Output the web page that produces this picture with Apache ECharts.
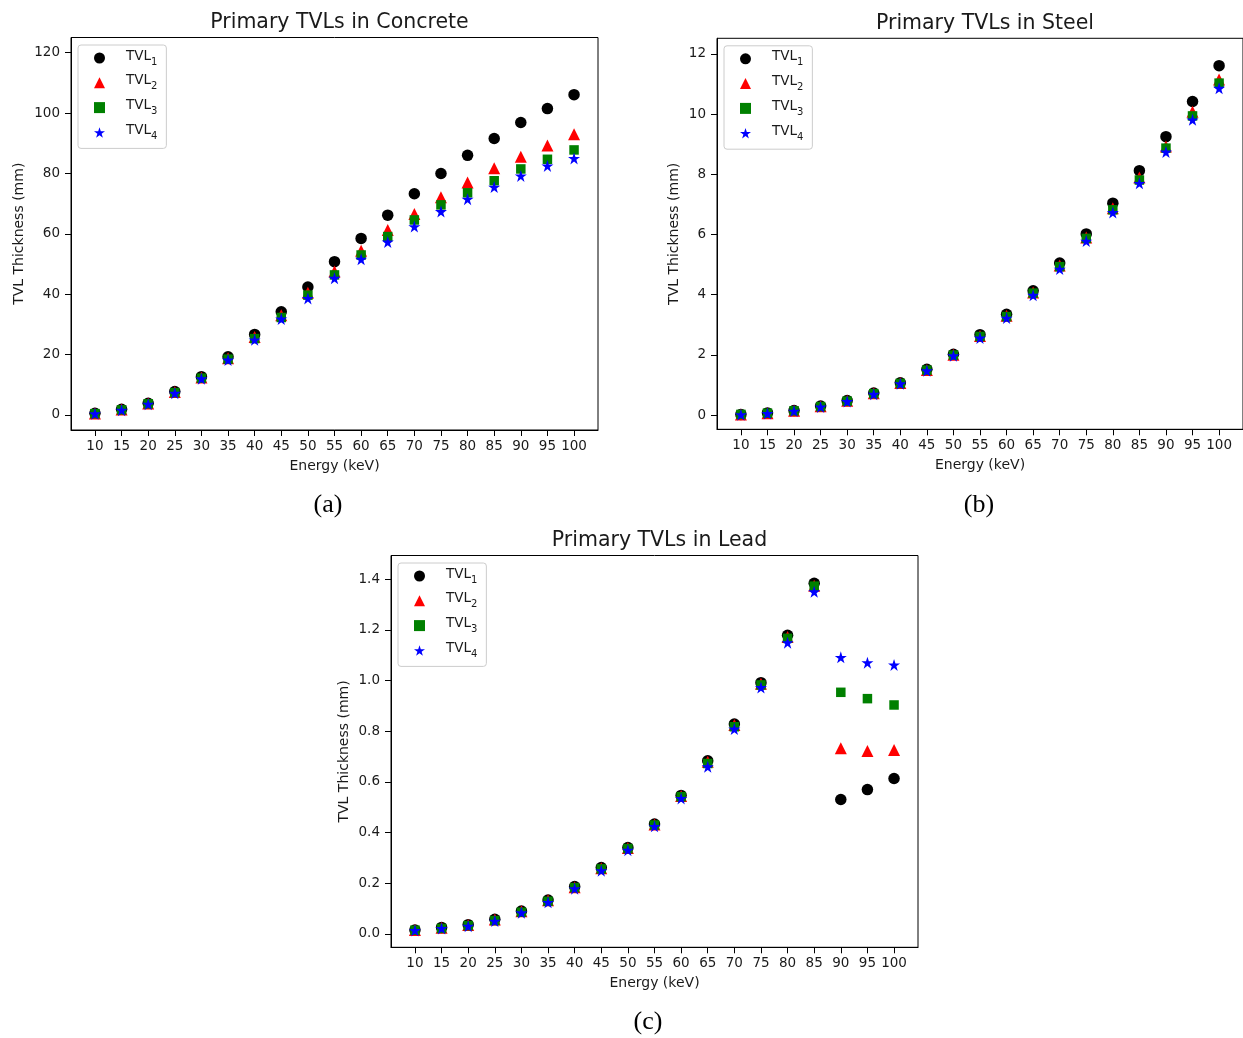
<!DOCTYPE html>
<html><head><meta charset="utf-8">
<script src="https://cdn.jsdelivr.net/npm/echarts@6/dist/echarts.min.js"></script>
<style>html,body{margin:0;padding:0;background:#fff}#c{width:1243px;height:1038px}</style>
</head><body><div id="c"></div>
<script>
// ---- data ----
const energies = [10,15,20,25,30,35,40,45,50,55,60,65,70,75,80,85,90,95,100];
const seriesNames = ['TVL1','TVL2','TVL3','TVL4'];
const concreteYTicks = [0,20,40,60,80,100,120];
const steelYTicks = [0,2,4,6,8,10,12];
const leadYTicks = [0,0.2,0.4,0.6,0.8,1.0,1.2,1.4];

const concreteTVL1 = [0.55,1.88,3.9,7.8,12.7,19.3,26.7,34.2,42.4,50.8,58.5,66.2,73.3,80.0,86.0,91.6,96.9,101.5,106.1];
const concreteTVL2 = [0.5,1.8,3.8,7.6,12.4,18.8,25.8,33.0,40.5,47.5,54.4,61.3,66.6,72.1,77.0,81.7,85.5,89.3,93.0];
const concreteTVL3 = [0.45,1.7,3.7,7.4,12.2,18.5,25.3,32.3,39.7,46.4,53.0,59.1,64.6,69.6,73.6,77.6,81.5,84.7,87.8];
const concreteTVL4 = [0.4,1.6,3.6,7.2,12.0,18.2,24.9,31.8,38.6,45.3,51.6,57.3,62.4,67.4,71.5,75.5,79.2,82.5,85.0];

const steelTVL1 = [0.02,0.07,0.15,0.30,0.48,0.73,1.07,1.52,2.02,2.67,3.35,4.13,5.05,6.02,7.04,8.12,9.25,10.42,11.61];
const steelTVL2 = [0.02,0.06,0.14,0.29,0.47,0.72,1.06,1.50,2.00,2.63,3.30,4.07,4.97,5.90,6.87,7.89,8.92,10.08,11.15];
const steelTVL3 = [0.02,0.06,0.14,0.28,0.46,0.71,1.05,1.49,1.99,2.61,3.27,4.05,4.93,5.87,6.82,7.81,8.87,9.94,11.03];
const steelTVL4 = [0.01,0.05,0.13,0.27,0.45,0.69,1.04,1.47,1.97,2.56,3.22,3.98,4.85,5.78,6.73,7.70,8.74,9.81,10.86];

const leadTVL1 = [0.016,0.026,0.037,0.058,0.091,0.134,0.187,0.262,0.341,0.434,0.547,0.684,0.829,0.992,1.179,1.384,0.531,0.570,0.614];
const leadTVL2 = [0.016,0.025,0.036,0.057,0.090,0.133,0.185,0.260,0.339,0.432,0.545,0.680,0.825,0.988,1.172,1.375,0.733,0.722,0.726];
const leadTVL3 = [0.015,0.022,0.033,0.053,0.086,0.129,0.183,0.257,0.337,0.430,0.542,0.673,0.818,0.983,1.167,1.373,0.954,0.929,0.904];
const leadTVL4 = [0.014,0.022,0.031,0.051,0.084,0.125,0.179,0.250,0.331,0.425,0.535,0.660,0.809,0.973,1.150,1.351,1.092,1.071,1.062];

// ---- styling ----
const STAR = 'path://M50,0 L61.2,34.5 L97.6,34.5 L68.2,55.9 L79.4,90.5 L50,69.1 L20.6,90.5 L31.8,55.9 L2.4,34.5 L38.8,34.5 Z';
const markerStyles = [
  {symbol:'circle', size:11.5, color:'#000000'},
  {symbol:'triangle', size:12, color:'#ff0000'},
  {symbol:'rect', size:9.5, color:'#008000'},
  {symbol:STAR, size:12, color:'#0000ff'}
];
const FONT = 'DejaVu Sans';
const TXT = '#1a1a1a';

const panels = [
  {title:'Primary TVLs in Concrete', left:71, top:37.5, width:527, height:392.5, min:-4.97, max:125.04, ticks:concreteYTicks, dec:0, nameGap:45, data:[concreteTVL1,concreteTVL2,concreteTVL3,concreteTVL4]},
  {title:'Primary TVLs in Steel', left:717, top:38.3, width:526, height:391, min:-0.475, max:12.52, ticks:steelYTicks, dec:0, nameGap:36, data:[steelTVL1,steelTVL2,steelTVL3,steelTVL4]},
  {title:'Primary TVLs in Lead', left:391, top:555.5, width:527, height:391.8, min:-0.0525, max:1.494, ticks:leadYTicks, dec:1, nameGap:40, data:[leadTVL1,leadTVL2,leadTVL3,leadTVL4]}
];

const grid = [], xAxis = [], yAxis = [], series = [], title = [], legend = [];
panels.forEach((p, gi) => {
  grid.push({left:p.left, top:p.top, width:p.width, height:p.height, show:true, borderColor:'#000', borderWidth:1, backgroundColor:'transparent'});
  title.push({text:p.title, left:p.left + p.width/2, top:p.top - 30, textAlign:'center',
    textStyle:{fontFamily:FONT, fontSize:20.5, fontWeight:'normal', color:TXT}});
  xAxis.push({type:'value', gridIndex:gi, min:5.5, max:104.5,
    name:'Energy (keV)', nameLocation:'middle', nameGap:29,
    nameTextStyle:{fontFamily:FONT, fontSize:14, color:TXT},
    axisLine:{show:true, onZero:false, lineStyle:{color:'#000', width:1}},
    axisTick:{show:true, length:6, customValues:energies, lineStyle:{color:'#000'}},
    axisLabel:{show:true, customValues:energies, margin:9, fontFamily:FONT, fontSize:13.5, color:TXT},
    splitLine:{show:false}});
  yAxis.push({type:'value', gridIndex:gi, min:p.min, max:p.max,
    name:'TVL Thickness (mm)', nameLocation:'middle', nameGap:p.nameGap, nameRotate:90,
    nameTextStyle:{fontFamily:FONT, fontSize:14, color:TXT},
    axisLine:{show:true, onZero:false, lineStyle:{color:'#000', width:1}},
    axisTick:{show:true, length:6, customValues:p.ticks, lineStyle:{color:'#000'}},
    axisLabel:{show:true, customValues:p.ticks, margin:11, fontFamily:FONT, fontSize:13.5, color:TXT,
      formatter: v => Number(v).toFixed(p.dec)},
    splitLine:{show:false}});
  p.data.forEach((vals, si) => {
    const m = markerStyles[si];
    series.push({type:'scatter', name:seriesNames[si], xAxisIndex:gi, yAxisIndex:gi,
      symbol:m.symbol, symbolSize:m.size, itemStyle:{color:m.color, opacity:1},
      emphasis:{disabled:true},
      data: energies.map((e, i) => [e, vals[i]])});
  });
  legend.push({data:seriesNames, orient:'vertical', left:p.left + 7, top:p.top + 7.5,
    itemWidth:11, itemHeight:11, itemGap:6.8, padding:[4, 9, 7, 16],
    borderColor:'#cccccc', borderWidth:1, borderRadius:3, backgroundColor:'rgba(255,255,255,0.8)',
    selectedMode:false,
    formatter: name => '{g|}{t|' + name.slice(0,3) + '}{s|' + name.slice(3) + '}',
    textStyle:{fontFamily:FONT, fontSize:13.5, color:TXT,
      rich:{
        g:{width:16, height:18},
        t:{fontFamily:FONT, fontSize:13.5, color:TXT, lineHeight:18, verticalAlign:'top'},
        s:{fontFamily:FONT, fontSize:10, color:TXT, lineHeight:18, verticalAlign:'bottom'}
      }}});
});

const chart = echarts.init(document.getElementById('c'), null, {renderer:'canvas'});
chart.setOption({
  animation:false,
  backgroundColor:'#ffffff',
  title, grid, xAxis, yAxis, legend, series,
  graphic:[
    {type:'text', x:328, y:505, style:{text:'(a)', font:'26px "Liberation Serif"', fill:'#000', align:'center', verticalAlign:'middle'}},
    {type:'text', x:979, y:505, style:{text:'(b)', font:'26px "Liberation Serif"', fill:'#000', align:'center', verticalAlign:'middle'}},
    {type:'text', x:648, y:1022, style:{text:'(c)', font:'26px "Liberation Serif"', fill:'#000', align:'center', verticalAlign:'middle'}}
  ]
});
</script></body></html>
